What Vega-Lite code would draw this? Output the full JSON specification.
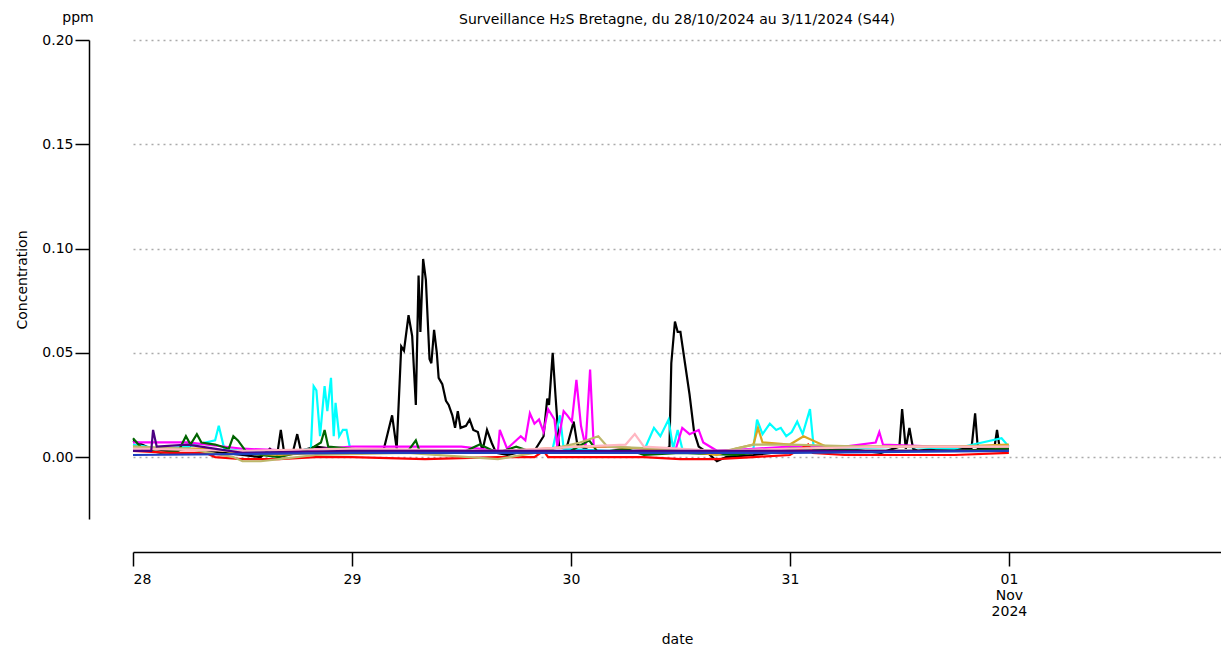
{
  "$schema": "https://vega.github.io/schema/vega-lite/v6.json",
  "width": 1088,
  "height": 479,
  "autosize": "none",
  "padding": {"left": 133, "top": 40, "right": 0, "bottom": 127},
  "title": {"text": "Surveillance H₂S Bretagne, du 28/10/2024 au 3/11/2024 (S44)", "fontSize": 14, "fontWeight": "normal", "font": "DejaVu Sans", "offset": -16},
  "datasets": {
    "mesures": [
      {"s":"a","t":"2024-10-28T00:00:00Z","v":0.008},{"s":"a","t":"2024-10-28T02:00:00Z","v":0.004},{"s":"a","t":"2024-10-28T04:00:00Z","v":0.003},{"s":"a","t":"2024-10-28T06:00:00Z","v":0.004},{"s":"a","t":"2024-10-28T08:00:00Z","v":0.003},{"s":"a","t":"2024-10-28T10:00:00Z","v":0.002},{"s":"a","t":"2024-10-28T12:00:00Z","v":0.001},{"s":"a","t":"2024-10-28T14:00:00Z","v":0.0},{"s":"a","t":"2024-10-28T15:00:00Z","v":0.004},{"s":"a","t":"2024-10-28T15:48:00Z","v":0.001},{"s":"a","t":"2024-10-28T16:12:00Z","v":0.013},{"s":"a","t":"2024-10-28T16:36:00Z","v":0.001},{"s":"a","t":"2024-10-28T17:30:00Z","v":0.002},{"s":"a","t":"2024-10-28T18:00:00Z","v":0.011},{"s":"a","t":"2024-10-28T18:24:00Z","v":0.003},{"s":"a","t":"2024-10-28T20:00:00Z","v":0.005},{"s":"a","t":"2024-10-28T22:00:00Z","v":0.004},
      {"s":"a","t":"2024-10-29T00:00:00Z","v":0.003},{"s":"a","t":"2024-10-29T02:00:00Z","v":0.003},{"s":"a","t":"2024-10-29T03:30:00Z","v":0.004},{"s":"a","t":"2024-10-29T04:24:00Z","v":0.02},{"s":"a","t":"2024-10-29T04:54:00Z","v":0.004},{"s":"a","t":"2024-10-29T05:24:00Z","v":0.053},{"s":"a","t":"2024-10-29T05:42:00Z","v":0.051},{"s":"a","t":"2024-10-29T06:12:00Z","v":0.068},{"s":"a","t":"2024-10-29T06:36:00Z","v":0.058},{"s":"a","t":"2024-10-29T07:00:00Z","v":0.025},{"s":"a","t":"2024-10-29T07:18:00Z","v":0.087},{"s":"a","t":"2024-10-29T07:30:00Z","v":0.06},{"s":"a","t":"2024-10-29T07:48:00Z","v":0.095},{"s":"a","t":"2024-10-29T08:06:00Z","v":0.085},{"s":"a","t":"2024-10-29T08:30:00Z","v":0.047},{"s":"a","t":"2024-10-29T08:42:00Z","v":0.045},{"s":"a","t":"2024-10-29T09:00:00Z","v":0.061},{"s":"a","t":"2024-10-29T09:18:00Z","v":0.05},{"s":"a","t":"2024-10-29T09:30:00Z","v":0.038},{"s":"a","t":"2024-10-29T09:54:00Z","v":0.035},{"s":"a","t":"2024-10-29T10:18:00Z","v":0.027},{"s":"a","t":"2024-10-29T10:36:00Z","v":0.025},{"s":"a","t":"2024-10-29T11:00:00Z","v":0.02},{"s":"a","t":"2024-10-29T11:18:00Z","v":0.014},{"s":"a","t":"2024-10-29T11:36:00Z","v":0.022},{"s":"a","t":"2024-10-29T11:54:00Z","v":0.014},{"s":"a","t":"2024-10-29T12:30:00Z","v":0.015},{"s":"a","t":"2024-10-29T12:54:00Z","v":0.018},{"s":"a","t":"2024-10-29T13:18:00Z","v":0.013},{"s":"a","t":"2024-10-29T13:48:00Z","v":0.012},{"s":"a","t":"2024-10-29T14:18:00Z","v":0.003},{"s":"a","t":"2024-10-29T14:48:00Z","v":0.013},{"s":"a","t":"2024-10-29T15:18:00Z","v":0.007},{"s":"a","t":"2024-10-29T15:48:00Z","v":0.002},{"s":"a","t":"2024-10-29T17:00:00Z","v":0.001},{"s":"a","t":"2024-10-29T19:00:00Z","v":0.003},{"s":"a","t":"2024-10-29T20:00:00Z","v":0.003},{"s":"a","t":"2024-10-29T21:00:00Z","v":0.01},{"s":"a","t":"2024-10-29T21:24:00Z","v":0.028},{"s":"a","t":"2024-10-29T21:36:00Z","v":0.025},{"s":"a","t":"2024-10-29T22:00:00Z","v":0.05},{"s":"a","t":"2024-10-29T22:18:00Z","v":0.03},{"s":"a","t":"2024-10-29T22:42:00Z","v":0.005},{"s":"a","t":"2024-10-29T23:30:00Z","v":0.004},
      {"s":"a","t":"2024-10-30T00:18:00Z","v":0.017},{"s":"a","t":"2024-10-30T00:42:00Z","v":0.006},{"s":"a","t":"2024-10-30T02:00:00Z","v":0.003},{"s":"a","t":"2024-10-30T04:00:00Z","v":0.002},{"s":"a","t":"2024-10-30T06:00:00Z","v":0.002},{"s":"a","t":"2024-10-30T08:00:00Z","v":0.003},{"s":"a","t":"2024-10-30T10:00:00Z","v":0.002},{"s":"a","t":"2024-10-30T10:48:00Z","v":0.005},{"s":"a","t":"2024-10-30T11:00:00Z","v":0.045},{"s":"a","t":"2024-10-30T11:24:00Z","v":0.065},{"s":"a","t":"2024-10-30T11:42:00Z","v":0.06},{"s":"a","t":"2024-10-30T12:00:00Z","v":0.06},{"s":"a","t":"2024-10-30T12:30:00Z","v":0.045},{"s":"a","t":"2024-10-30T13:00:00Z","v":0.03},{"s":"a","t":"2024-10-30T13:30:00Z","v":0.012},{"s":"a","t":"2024-10-30T14:00:00Z","v":0.005},{"s":"a","t":"2024-10-30T15:00:00Z","v":0.002},{"s":"a","t":"2024-10-30T16:00:00Z","v":-0.002},{"s":"a","t":"2024-10-30T17:00:00Z","v":0.0},{"s":"a","t":"2024-10-30T20:00:00Z","v":0.001},{"s":"a","t":"2024-10-30T22:00:00Z","v":0.002},
      {"s":"a","t":"2024-10-31T00:00:00Z","v":0.003},{"s":"a","t":"2024-10-31T02:00:00Z","v":0.003},{"s":"a","t":"2024-10-31T04:00:00Z","v":0.004},{"s":"a","t":"2024-10-31T06:00:00Z","v":0.004},{"s":"a","t":"2024-10-31T08:00:00Z","v":0.003},{"s":"a","t":"2024-10-31T10:00:00Z","v":0.002},{"s":"a","t":"2024-10-31T12:00:00Z","v":0.005},{"s":"a","t":"2024-10-31T12:18:00Z","v":0.023},{"s":"a","t":"2024-10-31T12:42:00Z","v":0.004},{"s":"a","t":"2024-10-31T13:06:00Z","v":0.014},{"s":"a","t":"2024-10-31T13:30:00Z","v":0.004},{"s":"a","t":"2024-10-31T14:00:00Z","v":0.003},{"s":"a","t":"2024-10-31T16:00:00Z","v":0.004},{"s":"a","t":"2024-10-31T18:00:00Z","v":0.004},{"s":"a","t":"2024-10-31T19:54:00Z","v":0.004},{"s":"a","t":"2024-10-31T20:18:00Z","v":0.021},{"s":"a","t":"2024-10-31T20:36:00Z","v":0.004},{"s":"a","t":"2024-10-31T22:24:00Z","v":0.004},{"s":"a","t":"2024-10-31T22:42:00Z","v":0.013},{"s":"a","t":"2024-10-31T23:00:00Z","v":0.004},{"s":"a","t":"2024-11-01T00:00:00Z","v":0.004},

      {"s":"b","t":"2024-10-28T00:00:00Z","v":0.006},{"s":"b","t":"2024-10-28T03:00:00Z","v":0.004},{"s":"b","t":"2024-10-28T06:00:00Z","v":0.005},{"s":"b","t":"2024-10-28T09:00:00Z","v":0.008},{"s":"b","t":"2024-10-28T09:24:00Z","v":0.015},{"s":"b","t":"2024-10-28T10:00:00Z","v":0.004},{"s":"b","t":"2024-10-28T14:00:00Z","v":0.002},{"s":"b","t":"2024-10-28T18:00:00Z","v":0.003},{"s":"b","t":"2024-10-28T19:30:00Z","v":0.004},{"s":"b","t":"2024-10-28T19:48:00Z","v":0.034},{"s":"b","t":"2024-10-28T20:06:00Z","v":0.032},{"s":"b","t":"2024-10-28T20:30:00Z","v":0.01},{"s":"b","t":"2024-10-28T21:00:00Z","v":0.034},{"s":"b","t":"2024-10-28T21:18:00Z","v":0.022},{"s":"b","t":"2024-10-28T21:42:00Z","v":0.038},{"s":"b","t":"2024-10-28T22:00:00Z","v":0.01},{"s":"b","t":"2024-10-28T22:12:00Z","v":0.026},{"s":"b","t":"2024-10-28T22:36:00Z","v":0.01},{"s":"b","t":"2024-10-28T23:00:00Z","v":0.013},{"s":"b","t":"2024-10-28T23:24:00Z","v":0.013},{"s":"b","t":"2024-10-28T23:48:00Z","v":0.004},{"s":"b","t":"2024-10-29T02:00:00Z","v":0.003},{"s":"b","t":"2024-10-29T06:00:00Z","v":0.002},{"s":"b","t":"2024-10-29T12:00:00Z","v":0.003},{"s":"b","t":"2024-10-29T18:00:00Z","v":0.002},{"s":"b","t":"2024-10-29T22:00:00Z","v":0.004},{"s":"b","t":"2024-10-29T22:48:00Z","v":0.02},{"s":"b","t":"2024-10-29T23:12:00Z","v":0.004},{"s":"b","t":"2024-10-30T04:00:00Z","v":0.003},{"s":"b","t":"2024-10-30T08:00:00Z","v":0.003},{"s":"b","t":"2024-10-30T09:06:00Z","v":0.014},{"s":"b","t":"2024-10-30T09:48:00Z","v":0.01},{"s":"b","t":"2024-10-30T10:42:00Z","v":0.018},{"s":"b","t":"2024-10-30T11:12:00Z","v":0.004},{"s":"b","t":"2024-10-30T11:42:00Z","v":0.013},{"s":"b","t":"2024-10-30T12:12:00Z","v":0.004},{"s":"b","t":"2024-10-30T16:00:00Z","v":0.002},{"s":"b","t":"2024-10-30T20:00:00Z","v":0.004},{"s":"b","t":"2024-10-30T20:24:00Z","v":0.018},{"s":"b","t":"2024-10-30T21:00:00Z","v":0.011},{"s":"b","t":"2024-10-30T21:48:00Z","v":0.016},{"s":"b","t":"2024-10-30T22:30:00Z","v":0.013},{"s":"b","t":"2024-10-30T23:00:00Z","v":0.014},{"s":"b","t":"2024-10-30T23:36:00Z","v":0.01},{"s":"b","t":"2024-10-31T00:12:00Z","v":0.012},{"s":"b","t":"2024-10-31T00:48:00Z","v":0.017},{"s":"b","t":"2024-10-31T01:24:00Z","v":0.011},{"s":"b","t":"2024-10-31T02:12:00Z","v":0.023},{"s":"b","t":"2024-10-31T02:36:00Z","v":0.005},{"s":"b","t":"2024-10-31T06:00:00Z","v":0.004},{"s":"b","t":"2024-10-31T12:00:00Z","v":0.005},{"s":"b","t":"2024-10-31T18:00:00Z","v":0.004},{"s":"b","t":"2024-10-31T23:12:00Z","v":0.009},{"s":"b","t":"2024-11-01T00:00:00Z","v":0.005},

      {"s":"c","t":"2024-10-28T00:00:00Z","v":0.007},{"s":"c","t":"2024-10-28T06:00:00Z","v":0.007},{"s":"c","t":"2024-10-28T12:00:00Z","v":0.004},{"s":"c","t":"2024-10-28T18:00:00Z","v":0.003},{"s":"c","t":"2024-10-29T00:00:00Z","v":0.005},{"s":"c","t":"2024-10-29T06:00:00Z","v":0.005},{"s":"c","t":"2024-10-29T12:00:00Z","v":0.005},{"s":"c","t":"2024-10-29T16:00:00Z","v":0.003},{"s":"c","t":"2024-10-29T16:12:00Z","v":0.013},{"s":"c","t":"2024-10-29T17:00:00Z","v":0.004},{"s":"c","t":"2024-10-29T18:30:00Z","v":0.01},{"s":"c","t":"2024-10-29T19:00:00Z","v":0.008},{"s":"c","t":"2024-10-29T19:30:00Z","v":0.021},{"s":"c","t":"2024-10-29T20:00:00Z","v":0.016},{"s":"c","t":"2024-10-29T20:30:00Z","v":0.018},{"s":"c","t":"2024-10-29T21:00:00Z","v":0.012},{"s":"c","t":"2024-10-29T21:30:00Z","v":0.023},{"s":"c","t":"2024-10-29T22:12:00Z","v":0.018},{"s":"c","t":"2024-10-29T22:30:00Z","v":0.005},{"s":"c","t":"2024-10-29T23:12:00Z","v":0.022},{"s":"c","t":"2024-10-29T23:36:00Z","v":0.02},{"s":"c","t":"2024-10-30T00:06:00Z","v":0.017},{"s":"c","t":"2024-10-30T00:36:00Z","v":0.037},{"s":"c","t":"2024-10-30T01:06:00Z","v":0.015},{"s":"c","t":"2024-10-30T01:36:00Z","v":0.005},{"s":"c","t":"2024-10-30T02:06:00Z","v":0.042},{"s":"c","t":"2024-10-30T02:30:00Z","v":0.005},{"s":"c","t":"2024-10-30T04:00:00Z","v":0.005},{"s":"c","t":"2024-10-30T08:00:00Z","v":0.004},{"s":"c","t":"2024-10-30T11:30:00Z","v":0.004},{"s":"c","t":"2024-10-30T12:12:00Z","v":0.014},{"s":"c","t":"2024-10-30T13:00:00Z","v":0.011},{"s":"c","t":"2024-10-30T14:00:00Z","v":0.013},{"s":"c","t":"2024-10-30T14:30:00Z","v":0.007},{"s":"c","t":"2024-10-30T16:00:00Z","v":0.003},{"s":"c","t":"2024-10-30T20:00:00Z","v":0.004},{"s":"c","t":"2024-10-31T00:00:00Z","v":0.005},{"s":"c","t":"2024-10-31T06:00:00Z","v":0.005},{"s":"c","t":"2024-10-31T09:24:00Z","v":0.007},{"s":"c","t":"2024-10-31T09:48:00Z","v":0.012},{"s":"c","t":"2024-10-31T10:12:00Z","v":0.006},{"s":"c","t":"2024-10-31T16:00:00Z","v":0.005},{"s":"c","t":"2024-11-01T00:00:00Z","v":0.005},

      {"s":"d","t":"2024-10-28T00:00:00Z","v":0.009},{"s":"d","t":"2024-10-28T01:00:00Z","v":0.004},{"s":"d","t":"2024-10-28T03:00:00Z","v":0.002},{"s":"d","t":"2024-10-28T05:00:00Z","v":0.003},{"s":"d","t":"2024-10-28T05:48:00Z","v":0.01},{"s":"d","t":"2024-10-28T06:18:00Z","v":0.006},{"s":"d","t":"2024-10-28T07:00:00Z","v":0.011},{"s":"d","t":"2024-10-28T07:30:00Z","v":0.007},{"s":"d","t":"2024-10-28T09:00:00Z","v":0.006},{"s":"d","t":"2024-10-28T10:30:00Z","v":0.004},{"s":"d","t":"2024-10-28T11:00:00Z","v":0.01},{"s":"d","t":"2024-10-28T11:30:00Z","v":0.008},{"s":"d","t":"2024-10-28T12:30:00Z","v":0.002},{"s":"d","t":"2024-10-28T14:00:00Z","v":0.001},{"s":"d","t":"2024-10-28T16:00:00Z","v":0.0},{"s":"d","t":"2024-10-28T18:00:00Z","v":0.002},{"s":"d","t":"2024-10-28T19:30:00Z","v":0.004},{"s":"d","t":"2024-10-28T20:36:00Z","v":0.007},{"s":"d","t":"2024-10-28T21:00:00Z","v":0.013},{"s":"d","t":"2024-10-28T21:24:00Z","v":0.005},{"s":"d","t":"2024-10-29T00:00:00Z","v":0.004},{"s":"d","t":"2024-10-29T06:00:00Z","v":0.002},{"s":"d","t":"2024-10-29T07:00:00Z","v":0.008},{"s":"d","t":"2024-10-29T07:24:00Z","v":0.003},{"s":"d","t":"2024-10-29T12:00:00Z","v":0.002},{"s":"d","t":"2024-10-29T14:00:00Z","v":0.006},{"s":"d","t":"2024-10-29T16:00:00Z","v":0.002},{"s":"d","t":"2024-10-29T18:00:00Z","v":0.005},{"s":"d","t":"2024-10-29T20:00:00Z","v":0.002},{"s":"d","t":"2024-10-30T00:00:00Z","v":0.003},{"s":"d","t":"2024-10-30T02:00:00Z","v":0.008},{"s":"d","t":"2024-10-30T03:00:00Z","v":0.002},{"s":"d","t":"2024-10-30T06:00:00Z","v":0.004},{"s":"d","t":"2024-10-30T08:00:00Z","v":0.001},{"s":"d","t":"2024-10-30T12:00:00Z","v":0.002},{"s":"d","t":"2024-10-30T18:00:00Z","v":0.001},{"s":"d","t":"2024-10-30T22:00:00Z","v":0.003},{"s":"d","t":"2024-10-31T00:00:00Z","v":0.004},{"s":"d","t":"2024-10-31T04:00:00Z","v":0.004},{"s":"d","t":"2024-10-31T08:00:00Z","v":0.003},{"s":"d","t":"2024-10-31T12:00:00Z","v":0.003},{"s":"d","t":"2024-10-31T18:00:00Z","v":0.003},{"s":"d","t":"2024-11-01T00:00:00Z","v":0.004},

      {"s":"e","t":"2024-10-28T00:00:00Z","v":0.003},{"s":"e","t":"2024-10-28T04:00:00Z","v":0.002},{"s":"e","t":"2024-10-28T08:00:00Z","v":0.002},{"s":"e","t":"2024-10-28T09:00:00Z","v":0.0},{"s":"e","t":"2024-10-28T12:00:00Z","v":-0.001},{"s":"e","t":"2024-10-28T16:00:00Z","v":-0.001},{"s":"e","t":"2024-10-28T20:00:00Z","v":0.0},{"s":"e","t":"2024-10-29T00:00:00Z","v":0.0},{"s":"e","t":"2024-10-29T08:00:00Z","v":-0.001},{"s":"e","t":"2024-10-29T16:00:00Z","v":0.0},{"s":"e","t":"2024-10-29T20:00:00Z","v":0.0},{"s":"e","t":"2024-10-29T21:00:00Z","v":0.003},{"s":"e","t":"2024-10-29T21:30:00Z","v":0.0},{"s":"e","t":"2024-10-30T00:00:00Z","v":0.0},{"s":"e","t":"2024-10-30T08:00:00Z","v":0.0},{"s":"e","t":"2024-10-30T12:00:00Z","v":-0.001},{"s":"e","t":"2024-10-30T16:00:00Z","v":-0.001},{"s":"e","t":"2024-10-30T20:00:00Z","v":0.0},{"s":"e","t":"2024-10-31T00:00:00Z","v":0.001},{"s":"e","t":"2024-10-31T02:00:00Z","v":0.006},{"s":"e","t":"2024-10-31T02:30:00Z","v":0.002},{"s":"e","t":"2024-10-31T06:00:00Z","v":0.001},{"s":"e","t":"2024-10-31T12:00:00Z","v":0.001},{"s":"e","t":"2024-10-31T18:00:00Z","v":0.001},{"s":"e","t":"2024-11-01T00:00:00Z","v":0.002},

      {"s":"f","t":"2024-10-28T00:00:00Z","v":0.005},{"s":"f","t":"2024-10-28T04:00:00Z","v":0.004},{"s":"f","t":"2024-10-28T08:00:00Z","v":0.004},{"s":"f","t":"2024-10-28T12:00:00Z","v":0.002},{"s":"f","t":"2024-10-28T16:00:00Z","v":0.001},{"s":"f","t":"2024-10-28T20:00:00Z","v":0.002},{"s":"f","t":"2024-10-29T00:00:00Z","v":0.002},{"s":"f","t":"2024-10-29T06:00:00Z","v":0.002},{"s":"f","t":"2024-10-29T12:00:00Z","v":0.002},{"s":"f","t":"2024-10-29T18:00:00Z","v":0.003},{"s":"f","t":"2024-10-30T00:00:00Z","v":0.005},{"s":"f","t":"2024-10-30T04:00:00Z","v":0.005},{"s":"f","t":"2024-10-30T08:00:00Z","v":0.004},{"s":"f","t":"2024-10-30T12:00:00Z","v":0.003},{"s":"f","t":"2024-10-30T16:00:00Z","v":0.001},{"s":"f","t":"2024-10-30T18:00:00Z","v":0.004},{"s":"f","t":"2024-10-30T20:00:00Z","v":0.006},{"s":"f","t":"2024-10-30T20:30:00Z","v":0.014},{"s":"f","t":"2024-10-30T21:00:00Z","v":0.007},{"s":"f","t":"2024-10-31T00:00:00Z","v":0.006},{"s":"f","t":"2024-10-31T01:30:00Z","v":0.01},{"s":"f","t":"2024-10-31T04:00:00Z","v":0.005},{"s":"f","t":"2024-10-31T12:00:00Z","v":0.005},{"s":"f","t":"2024-10-31T18:00:00Z","v":0.005},{"s":"f","t":"2024-11-01T00:00:00Z","v":0.006},

      {"s":"g","t":"2024-10-28T00:00:00Z","v":0.005},{"s":"g","t":"2024-10-28T06:00:00Z","v":0.004},{"s":"g","t":"2024-10-28T11:00:00Z","v":0.0},{"s":"g","t":"2024-10-28T12:00:00Z","v":-0.002},{"s":"g","t":"2024-10-28T14:00:00Z","v":-0.002},{"s":"g","t":"2024-10-28T16:00:00Z","v":-0.001},{"s":"g","t":"2024-10-28T20:00:00Z","v":0.001},{"s":"g","t":"2024-10-29T06:00:00Z","v":0.002},{"s":"g","t":"2024-10-29T16:00:00Z","v":-0.001},{"s":"g","t":"2024-10-29T20:00:00Z","v":0.002},{"s":"g","t":"2024-10-30T01:00:00Z","v":0.007},{"s":"g","t":"2024-10-30T03:00:00Z","v":0.01},{"s":"g","t":"2024-10-30T04:00:00Z","v":0.005},{"s":"g","t":"2024-10-30T10:00:00Z","v":0.004},{"s":"g","t":"2024-10-30T16:00:00Z","v":0.002},{"s":"g","t":"2024-10-30T20:00:00Z","v":0.006},{"s":"g","t":"2024-10-31T00:00:00Z","v":0.006},{"s":"g","t":"2024-10-31T08:00:00Z","v":0.005},{"s":"g","t":"2024-11-01T00:00:00Z","v":0.005},

      {"s":"h","t":"2024-10-28T00:00:00Z","v":0.004},{"s":"h","t":"2024-10-28T12:00:00Z","v":0.003},{"s":"h","t":"2024-10-29T00:00:00Z","v":0.004},{"s":"h","t":"2024-10-29T16:00:00Z","v":0.003},{"s":"h","t":"2024-10-30T01:00:00Z","v":0.005},{"s":"h","t":"2024-10-30T06:00:00Z","v":0.006},{"s":"h","t":"2024-10-30T07:00:00Z","v":0.011},{"s":"h","t":"2024-10-30T08:00:00Z","v":0.005},{"s":"h","t":"2024-10-30T16:00:00Z","v":0.003},{"s":"h","t":"2024-10-31T00:00:00Z","v":0.004},{"s":"h","t":"2024-10-31T12:00:00Z","v":0.005},{"s":"h","t":"2024-11-01T00:00:00Z","v":0.005},

      {"s":"i","t":"2024-10-28T00:00:00Z","v":0.003},{"s":"i","t":"2024-10-28T02:00:00Z","v":0.003},{"s":"i","t":"2024-10-28T02:12:00Z","v":0.013},{"s":"i","t":"2024-10-28T02:36:00Z","v":0.005},{"s":"i","t":"2024-10-28T06:00:00Z","v":0.006},{"s":"i","t":"2024-10-28T12:00:00Z","v":0.002},{"s":"i","t":"2024-10-29T00:00:00Z","v":0.003},{"s":"i","t":"2024-10-30T00:00:00Z","v":0.003},{"s":"i","t":"2024-10-31T00:00:00Z","v":0.003},{"s":"i","t":"2024-11-01T00:00:00Z","v":0.003},

      {"s":"j","t":"2024-10-28T00:00:00Z","v":0.001},{"s":"j","t":"2024-10-29T00:00:00Z","v":0.002},{"s":"j","t":"2024-10-30T00:00:00Z","v":0.002},{"s":"j","t":"2024-10-31T00:00:00Z","v":0.002},{"s":"j","t":"2024-11-01T00:00:00Z","v":0.003}
    ]
  },
  "layer": [
    {
      "data": {"name": "mesures"},
      "mark": {"type": "line", "strokeWidth": 2.2, "interpolate": "linear"},
      "encoding": {
        "x": {
          "field": "t", "type": "temporal",
          "scale": {"type": "utc", "domain": ["2024-10-28T00:00:00Z", "2024-11-01T23:15:00Z"]},
          "title": "date",
          "axis": {
            "values": ["2024-10-28T00:00:00Z", "2024-10-29T00:00:00Z", "2024-10-30T00:00:00Z", "2024-10-31T00:00:00Z", "2024-11-01T00:00:00Z"],
            "labelExpr": "utcdate(datum.value) == 1 ? ['01', 'Nov', '2024'] : utcFormat(datum.value, '%d')",
            "offset": 33, "grid": false, "tickSize": 14, "tickWidth": 1.5, "tickColor": "black", "domainColor": "black",
            "labelFontSize": 14, "labelLineHeight": 16, "titleFontSize": 14, "titleFontWeight": "normal", "titlePadding": 14, "labelPadding": 6
          }
        },
        "y": {
          "field": "v", "type": "quantitative",
          "scale": {"domain": [-0.0297, 0.2], "nice": false, "zero": false},
          "title": "Concentration",
          "axis": {
            "values": [0, 0.05, 0.1, 0.15, 0.2], "format": ".2f",
            "offset": 44, "grid": true, "gridDash": [2, 4], "gridColor": "#aaaaaa", "gridWidth": 1.5,
            "tickSize": 14, "tickWidth": 1.5, "tickColor": "black", "domainColor": "black",
            "labelFontSize": 14, "titleFontSize": 14, "titleFontWeight": "normal", "titlePadding": 12
          }
        },
        "color": {
          "field": "s", "type": "nominal", "legend": null,
          "scale": {
            "domain": ["j", "i", "h", "g", "f", "e", "d", "c", "b", "a"],
            "range": ["#1f3fbf", "#4b0082", "#ffb6c1", "#bdb76b", "#daa520", "#ff0000", "#006400", "#ff00ff", "#00ffff", "#000000"]
          }
        },
        "order": {"field": "t"}
      }
    },
    {
      "data": {"values": [{"u": "ppm"}]},
      "mark": {"type": "text", "fontSize": 14, "dx": -55, "dy": -22, "align": "center", "font": "DejaVu Sans"},
      "encoding": {
        "x": {"datum": "2024-10-28T00:00:00Z", "type": "temporal"},
        "y": {"datum": 0.2},
        "text": {"field": "u"}
      }
    }
  ],
  "config": {
    "font": "DejaVu Sans",
    "view": {"stroke": null},
    "axis": {"labelColor": "black", "titleColor": "black", "domainWidth": 1.5}
  }
}
